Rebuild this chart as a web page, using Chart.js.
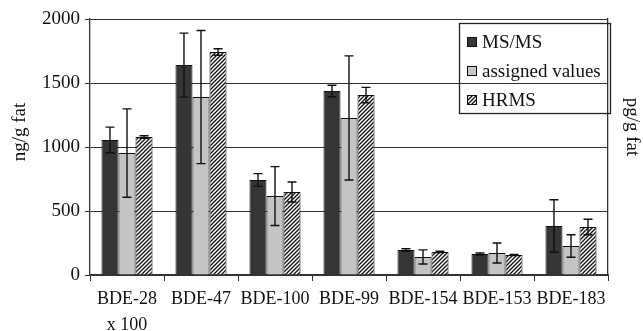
<!DOCTYPE html>
<html>
<head>
<meta charset="utf-8">
<script src="https://cdn.jsdelivr.net/npm/chart.js@4.4.1/dist/chart.umd.min.js"></script>
<style>
html,body{margin:0;padding:0;background:#fff;}
#wrap{width:643px;height:331px;position:relative;}
</style>
</head>
<body>
<div id="wrap"><canvas id="c" width="643" height="331"></canvas></div>
<script>
const categories = [["BDE-28","x 100"],"BDE-47","BDE-100","BDE-99","BDE-154","BDE-153","BDE-183"];
const seriesNames = ["MS/MS","assigned values","HRMS"];
const msms = [1055, 1640, 742, 1438, 195, 164, 383];
const msmsErr = [100, 250, 50, 45, 10, 8, 205];
const assigned = [953, 1390, 617, 1227, 141, 172, 227];
const assignedErr = [345, 520, 230, 485, 55, 78, 88];
const hrms = [1078, 1742, 648, 1406, 180, 156, 375];
const hrmsErr = [10, 25, 78, 60, 5, 4, 60];
const yTicks = [0, 500, 1000, 1500, 2000];
const yTitle = "ng/g fat";
const y2Title = "pg/g fat";

const FONT = "'Liberation Serif', 'Times New Roman', serif";

function hatchPattern(){
  const s = 4;
  const c = document.createElement('canvas');
  c.width = s; c.height = s;
  const g = c.getContext('2d');
  g.fillStyle = '#fff'; g.fillRect(0,0,s,s);
  g.strokeStyle = '#111'; g.lineWidth = 1.3;
  g.beginPath();
  g.moveTo(0,s); g.lineTo(s,0);
  g.moveTo(-1,1); g.lineTo(1,-1);
  g.moveTo(s-1,s+1); g.lineTo(s+1,s-1);
  g.stroke();
  return g.createPattern(c,'repeat');
}
const ctx = document.getElementById('c').getContext('2d');
const hatch = hatchPattern();
const fills = ['#353535', '#c4c4c4', hatch];
const errs = [msmsErr, assignedErr, hrmsErr];

const errorBars = {
  id:'errorBars',
  afterDatasetsDraw(chart){
    const g = chart.ctx, ys = chart.scales.y;
    g.save();
    g.strokeStyle = '#111'; g.lineWidth = 1.4;
    chart.data.datasets.forEach((ds,i)=>{
      const meta = chart.getDatasetMeta(i);
      meta.data.forEach((el,j)=>{
        const v = ds.data[j], e = errs[i][j];
        const yt = ys.getPixelForValue(v+e), yb = ys.getPixelForValue(v-e);
        const x = el.x, hw = 4.5;
        g.beginPath();
        g.moveTo(x,yt); g.lineTo(x,yb);
        g.moveTo(x-hw,yt); g.lineTo(x+hw,yt);
        g.moveTo(x-hw,yb); g.lineTo(x+hw,yb);
        g.stroke();
      });
    });
    g.restore();
  }
};

const extras = {
  id:'extras',
  afterDraw(chart){
    const g = chart.ctx;
    g.save();
    g.fillStyle = '#111';
    g.font = '19px ' + FONT;
    g.textAlign = 'center'; g.textBaseline = 'middle';
    g.save(); g.translate(20,132); g.rotate(-Math.PI/2); g.fillText(yTitle,0,0); g.restore();
    g.save(); g.translate(632,127); g.rotate(Math.PI/2); g.fillText(y2Title,0,0); g.restore();
    // legend
    const bx = 459, by = 23, bw = 151, bh = 90;
    g.strokeStyle = '#222'; g.lineWidth = 1.3;
    g.strokeRect(bx+0.5, by+0.5, bw, bh);
    g.textAlign = 'left';
    const rows = [42, 71, 100];
    seriesNames.forEach((n,i)=>{
      g.fillStyle = fills[i];
      g.fillRect(467, rows[i]-5, 10, 10);
      g.strokeStyle = '#111'; g.lineWidth = 1;
      g.strokeRect(467.5, rows[i]-4.5, 9, 9);
      g.fillStyle = '#111';
      g.fillText(n, 482, rows[i]+1);
    });
    g.restore();
  }
};

const mk = (label, data, i) => ({
  label, data, backgroundColor: fills[i], borderColor:'#111', borderWidth:1,
  categoryPercentage:0.69, barPercentage:1.0
});

new Chart(ctx, {
  type:'bar',
  data:{
    labels: categories,
    datasets:[mk(seriesNames[0], msms, 0), mk(seriesNames[1], assigned, 1), mk(seriesNames[2], hrms, 2)]
  },
  options:{
    responsive:false, animation:false, devicePixelRatio:1,
    layout:{padding:{top:19, left:0, right:0, bottom:0}},
    plugins:{legend:{display:false}, tooltip:{enabled:false}},
    scales:{
      x:{
        offset:true,
        grid:{offset:true, drawOnChartArea:false, tickLength:6, color:'#333', lineWidth:1},
        border:{color:'#333', width:1.3},
        ticks:{font:{family:FONT, size:18, lineHeight:1.4}, color:'#111', padding:6, maxRotation:0, autoSkip:false},
        afterFit(s){ s.height = 56; }
      },
      y:{
        min:0, max:2000,
        afterBuildTicks(s){ s.ticks = yTicks.map(v=>({value:v})); },
        grid:{color:'#333', lineWidth:1, tickLength:5},
        border:{color:'#333', width:1.3},
        ticks:{font:{family:FONT, size:19}, color:'#111', padding:5, callback:(v)=>String(v)},
        afterFit(s){ s.width = 90; }
      },
      y2:{
        position:'right', min:0, max:2000,
        grid:{display:false, drawOnChartArea:false},
        border:{display:true, color:'#333', width:1.3},
        ticks:{display:false},
        afterFit(s){ s.width = 35; }
      }
    }
  },
  plugins:[errorBars, extras]
});
</script>
</body>
</html>
